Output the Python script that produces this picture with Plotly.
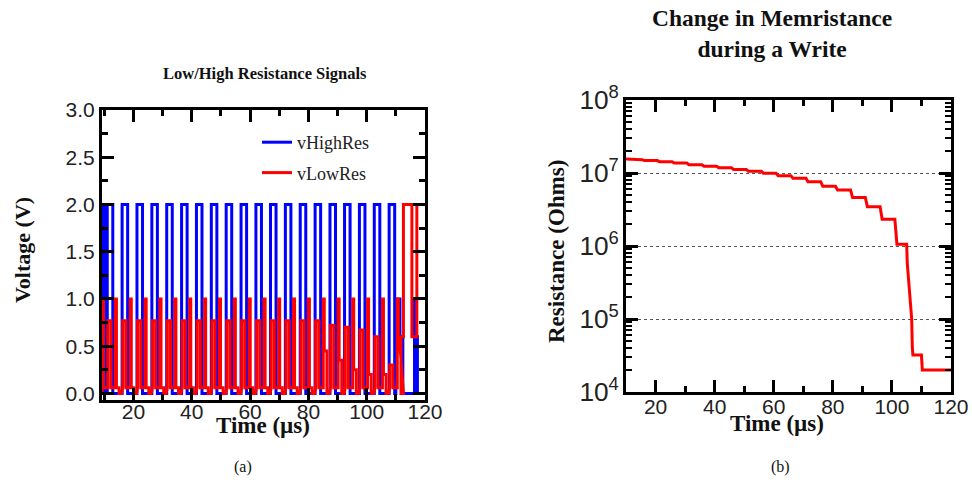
import plotly.graph_objects as go

# ---------------- (a) write / read pulse trains ----------------
# rising edge of every write pulse on vHighRes (µs)
pulse_start = [11.0, 16.1, 21.2, 26.3, 31.4, 36.5, 41.6, 46.7, 51.8, 56.9,
               62.0, 67.0, 72.1, 77.2, 82.3, 87.4, 92.4, 97.5, 102.6, 107.7]
write_width = 1.9          # µs at the 2 V level
write_level = 2.0          # V
read_delay = 2.8           # µs from write edge to the read spike on vLowRes
read_width = 0.35          # µs
read_level = 1.0           # V
# vLowRes level during each write pulse (V)
low_shoulder = [0.77, 0.77, 0.77, 0.77, 0.77, 0.77, 0.77, 0.77, 0.77, 0.77,
                0.77, 0.77, 0.77, 0.77, 0.77, 0.72, 0.70, 0.67, 0.60, 0.30]
# vLowRes level right after each read spike (V)
low_after_read = [0.06, 0.06, 0.06, 0.06, 0.06, 0.06, 0.06, 0.06, 0.06, 0.06,
                  0.06, 0.06, 0.06, 0.06, 0.45, 0.35, 0.25, 0.20, 0.20, 0.60]
# tails after the last write pulse: (time µs, level V)
low_tail_t = [111.2, 112.6, 112.6, 115.5, 115.5, 117.2, 117.2, 120.0]
low_tail_v = [0.6, 0.6, 2.0, 2.0, 0.6, 0.6, 2.0, 2.0]
high_tail_t = [110.0, 110.0, 111.4, 111.4, 112.4, 112.4, 116.4, 116.4, 116.8,
               116.8, 117.4, 117.4, 120.0]
high_tail_v = [0.0, 1.0, 1.0, 0.6, 0.6, 0.0, 0.0, 1.0, 1.0, 0.6, 0.6, 0.0, 0.0]

# ---------------- (b) memristance during the write ----------------
time_us = [10.0, 10.5, 11.2, 15.5, 16.2, 20.6, 21.3, 25.6, 26.3, 30.6, 31.3,
           35.7, 36.4, 40.7, 41.4, 45.7, 46.4, 50.7, 51.4, 55.8, 56.5, 60.8,
           61.5, 65.8, 66.5, 70.9, 71.6, 75.9, 76.6, 80.9, 81.6, 86.0, 86.7,
           91.0, 91.7, 96.0, 96.7, 101.0, 101.7, 105.0, 105.2, 106.1, 106.7,
           106.9, 107.1, 110.0, 110.3, 120.0]
resistance = [1.55e7, 1.55e7, 1.52e7, 1.52e7, 1.48e7, 1.48e7, 1.43e7, 1.43e7,
              1.37e7, 1.37e7, 1.30e7, 1.30e7, 1.24e7, 1.24e7, 1.18e7, 1.18e7,
              1.12e7, 1.12e7, 1.06e7, 1.06e7, 9.9e6, 9.9e6, 9.2e6, 9.2e6,
              8.5e6, 8.5e6, 7.6e6, 7.6e6, 6.6e6, 6.6e6, 5.85e6, 5.85e6, 4.6e6,
              4.6e6, 3.46e6, 3.46e6, 2.32e6, 2.32e6, 1.06e6, 1.06e6, 5.8e5,
              2.0e5, 1.0e5, 4.2e4, 3.2e4, 3.2e4, 2.0e4, 2.0e4]

# ---- build the step waveforms from the pulse tables ----
hx, hy = [9.2, 9.2, 10.2, 10.2], [0.0, 2.0, 2.0, 0.0]
lx, ly = [9.2, 9.2, 9.7, 9.7], [0.0, 1.0, 1.0, 0.06]
for i, t0 in enumerate(pulse_start):
    t1 = t0 + write_width
    r0, r1 = t0 + read_delay, t0 + read_delay + read_width
    hx += [t0, t0, t1, t1]
    hy += [0.0, write_level, write_level, 0.0]
    s, a = low_shoulder[i], low_after_read[i]
    lx += [t0 + 0.2, t0 + 0.2, t0 + 1.3, t0 + 1.3, r0, r0, r1, r1,
           r1 + 0.9, r1 + 0.9, t0 + 4.9]
    ly += [0.06, s, s, 0.06, 0.06, read_level, read_level, a, a, 0.0, 0.0]
hx += high_tail_t
hy += high_tail_v
lx += low_tail_t
ly += low_tail_v

SERIF = "Liberation Serif, Times New Roman, serif"
SANS = "Liberation Sans, Arial, sans-serif"

fig = go.Figure()
fig.add_trace(go.Scatter(x=hx, y=hy, mode="lines", name="vHighRes",
                         line=dict(color="#0000ff", width=3), legendgroup="h",
                         xaxis="x", yaxis="y"))
fig.add_trace(go.Scatter(x=lx, y=ly, mode="lines", name="vLowRes",
                         line=dict(color="#ff0000", width=3), legendgroup="l",
                         xaxis="x", yaxis="y"))
fig.add_trace(go.Scatter(x=time_us, y=resistance, mode="lines", showlegend=False,
                         line=dict(color="#ff0000", width=3),
                         xaxis="x2", yaxis="y2"))

frame = dict(showline=True, linecolor="black", linewidth=3, mirror="allticks",
             ticks="inside", ticklen=12, tickwidth=2.5, tickcolor="black",
             zeroline=False, automargin=False,
             tickfont=dict(family=SANS, size=21, color="#222"))
minor_lin = dict(ticks="inside", ticklen=6, tickwidth=2.5, tickcolor="black")

fig.update_layout(
    width=972, height=488,
    margin=dict(l=0, r=0, t=0, b=0),
    paper_bgcolor="white", plot_bgcolor="white",
    showlegend=True,
    legend=dict(x=257 / 972, y=1 - 124 / 488, xanchor="left", yanchor="top",
                bgcolor="rgba(0,0,0,0)", tracegroupgap=4,
                font=dict(family=SERIF, size=18, color="#222")),
    xaxis=dict(domain=[102 / 972, 425 / 972], range=[9.2, 120],
               tickmode="linear", tick0=0, dtick=20, showgrid=False,
               ticklabelstandoff=-9,
               minor=dict(dtick=10, tick0=0, **minor_lin),
               anchor="y", **frame),
    yaxis=dict(domain=[88 / 488, 378 / 488], range=[-0.07, 3.0],
               tickmode="linear", tick0=0, dtick=0.5, tickformat=".1f",
               showgrid=False,
               minor=dict(dtick=0.25, tick0=0, **minor_lin),
               anchor="x", **frame),
    xaxis2=dict(domain=[626 / 972, 951 / 972], range=[10, 120],
                tickmode="linear", tick0=0, dtick=20, showgrid=False,
                ticklabelstandoff=-6,
                minor=dict(dtick=10, tick0=0, **minor_lin),
                anchor="y2", **frame),
    yaxis2=dict(domain=[96 / 488, 388 / 488], type="log", range=[4, 8],
                dtick=1, exponentformat="power",
                showgrid=True, gridcolor="#555", griddash="dot", gridwidth=1,
                minor=dict(dtick="D1", ticks="inside", ticklen=6, tickwidth=2,
                           tickcolor="black"),
                anchor="x2", **frame),
)

ann = [
    dict(text="<b>Low/High Resistance Signals</b>", x=265 / 972, y=1 - 73 / 488,
         font=dict(family=SERIF, size=16.5, color="#111")),
    dict(text="<b>Change in Memristance<br>during a Write</b>", x=772 / 972,
         y=1 - 33 / 488, font=dict(family=SERIF, size=23.5, color="#111")),
    dict(text="<b>Voltage (V)</b>", x=23 / 972, y=1 - 250 / 488, textangle=-90,
         font=dict(family=SERIF, size=22, color="#111")),
    dict(text="<b>Resistance (Ohms)</b>", x=556 / 972, y=1 - 252 / 488,
         textangle=-90, font=dict(family=SERIF, size=23, color="#111")),
    dict(text="<b>Time (µs)</b>", x=263 / 972, y=1 - 425 / 488,
         font=dict(family=SERIF, size=23, color="#111")),
    dict(text="<b>Time (µs)</b>", x=777 / 972, y=1 - 423 / 488,
         font=dict(family=SERIF, size=23, color="#111")),
    dict(text="(a)", x=243 / 972, y=1 - 467 / 488,
         font=dict(family=SERIF, size=16, color="#111")),
    dict(text="(b)", x=780 / 972, y=1 - 467 / 488,
         font=dict(family=SERIF, size=16, color="#111")),
]
for a in ann:
    fig.add_annotation(xref="paper", yref="paper", showarrow=False,
                       xanchor="center", yanchor="middle", **a)

fig.write_html("out.html")
